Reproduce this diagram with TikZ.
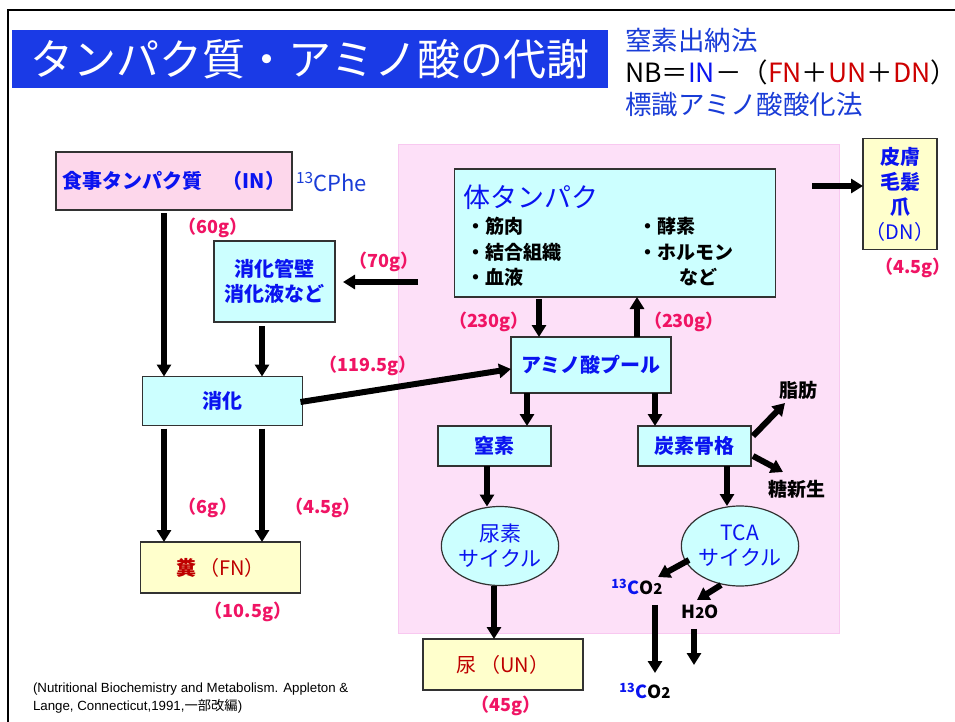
\documentclass[tikz,border=0pt]{standalone}
\usepackage{fontspec}
\newfontfamily\jp{Noto Sans CJK JP}
\newfontfamily\arial{Liberation Sans}
\usetikzlibrary{arrows.meta,shapes.geometric}
\definecolor{titleblue}{RGB}{26,58,230}
\definecolor{hdrblue}{RGB}{25,60,215}
\definecolor{boxblue}{RGB}{10,20,240}
\definecolor{amtpink}{RGB}{240,20,100}
\definecolor{darkred}{RGB}{190,0,0}
\definecolor{nbred}{RGB}{205,0,0}
\definecolor{cyanfill}{RGB}{204,255,255}
\definecolor{yellowfill}{RGB}{255,255,204}
\definecolor{inpink}{RGB}{253,215,235}
\definecolor{pinkbg}{RGB}{253,224,248}
\definecolor{pinkedge}{RGB}{248,200,240}
\definecolor{boxline}{RGB}{50,50,50}
\begin{document}
\begin{tikzpicture}[x=1pt,y=-1pt,
  every node/.style={inner sep=0pt,outer sep=0pt},
  cbox/.style={draw=boxline,line width=1.2pt,fill=cyanfill,text=boxblue,font=\jp\bfseries\fontsize{20}{25}\selectfont,align=center},
  ybox/.style={draw=boxline,line width=1.2pt,fill=yellowfill,text=darkred,font=\jp\fontsize{20}{25}\selectfont,align=center},
  ellip/.style={ellipse,draw=boxline,line width=1.2pt,fill=cyanfill,text=boxblue,font=\jp\fontsize{21}{25}\selectfont,align=center},
  amt/.style={text=amtpink,font=\jp\bfseries\fontsize{18}{20}\selectfont},
  item/.style={anchor=west,text=black,font=\jp\bfseries\fontsize{19}{20}\selectfont},
  hdr/.style={anchor=west,font=\jp\fontsize{26.5}{28}\selectfont},
  blk/.style={text=black,font=\jp\bfseries\fontsize{19}{20}\selectfont},
  chem/.style={text=black,font=\jp\bfseries\fontsize{18}{20}\selectfont},
  cite/.style={anchor=west,text=black,font=\arial\fontsize{13.3}{15}\selectfont},
  arr/.style={line width=6pt,-{Triangle[length=12pt,width=14pt]}}
]
\useasboundingbox (0,0) rectangle (955,722);
\fill[white] (0,0) rectangle (955,722);
% frame
\draw[line width=2.5pt] (8,722) -- (8,10) -- (955,10);
% title
\node[fill=titleblue,minimum width=596,minimum height=58,text=white,font=\jp\fontsize{43}{46}\selectfont] (title) at (310,59) {タンパク質・アミノ酸の代謝};
\node[hdr,text=hdrblue] (h1) at (625,40) {窒素出納法};
\node[hdr,text=black] (h2) at (625,72) {NB＝{\color{boxblue}IN}－（{\color{nbred}FN}＋{\color{nbred}UN}＋{\color{nbred}DN}）};
\node[hdr,text=hdrblue] (h3) at (625,104) {標識アミノ酸酸化法};
% pink region
\fill[pinkbg,draw=pinkedge,line width=1pt] (398,145) rectangle (839,633);
% boxes
\node[draw=boxline,line width=1.2pt,fill=inpink,text=boxblue,font=\jp\bfseries\fontsize{20}{25}\selectfont,minimum width=236,minimum height=58] (shokuji) at (174,181) {食事タンパク質　（IN）};
\node[anchor=west,text=hdrblue,font=\jp\fontsize{22}{24}\selectfont] (cphe) at (296,182) {\textsuperscript{13}CPhe};
\node[cbox,minimum width=321,minimum height=128] (body) at (615,233) {};
\node[anchor=west,text=boxblue,font=\jp\fontsize{27}{30}\selectfont] (bodyt) at (463,197) {体タンパク};
\node[item] (i1) at (466,226) {・筋肉};
\node[item] (i2) at (466,252) {・結合組織};
\node[item] (i3) at (466,277) {・血液};
\node[item] (i4) at (638,226) {・酵素};
\node[item] (i5) at (638,252) {・ホルモン};
\node[item] (i6) at (679,277) {など};
\node[cbox,fill=yellowfill,minimum width=74,minimum height=111] (skin) at (900,194) {皮膚\\毛髪\\爪\\{\mdseries （DN）}};
\node[cbox,minimum width=121,minimum height=81] (wall) at (274.5,281.5) {消化管壁\\消化液など};
\node[cbox,minimum width=160,minimum height=49] (shoka) at (222.5,401) {消化};
\node[cbox,minimum width=160,minimum height=56] (pool) at (591,365) {アミノ酸プール};
\node[cbox,minimum width=113,minimum height=40] (chisso) at (494.5,446) {窒素};
\node[cbox,minimum width=113,minimum height=40] (tanso) at (694.5,446) {炭素骨格};
\node[blk] (shibo) at (798,390) {脂肪};
\node[blk] (toshin) at (797,489) {糖新生};
\node[ellip,minimum width=107,minimum height=79] (nyoso) at (500,546) {尿素\\サイクル};
\node[ellip,minimum width=108,minimum height=80] (tca) at (740,546) {TCA\\サイクル};
\node[chem] (co2a) at (637,587) {{\color{boxblue}\textsuperscript{13}C}O{\fontsize{15}{15}\selectfont 2}};
\node[chem] (h2o) at (700,612) {H{\fontsize{15}{15}\selectfont 2}O};
\node[chem] (co2b) at (645,691) {{\color{boxblue}\textsuperscript{13}C}O{\fontsize{15}{15}\selectfont 2}};
\node[ybox,minimum width=160,minimum height=51] (fun) at (220.5,567.5) {{\bfseries 糞}\,（FN）};
\node[ybox,minimum width=160,minimum height=51] (nyo) at (503,664.5) {尿\,（UN）};
% amounts
\node[amt] (a60) at (213,228) {（60g）};
\node[amt] (a70) at (384,262) {（70g）};
\node[amt] (a119) at (368,366) {（119.5g）};
\node[amt] (a230l) at (489,322) {（230g）};
\node[amt] (a230r) at (684,322) {（230g）};
\node[amt] (a45s) at (913,268) {（4.5g）};
\node[amt] (a6) at (208,508) {（6g）};
\node[amt] (a45f) at (323,508) {（4.5g）};
\node[amt] (a105) at (248,612) {（10.5g）};
\node[amt] (a45) at (506,706) {（45g）};
% citation
\node[cite] (c1) at (33,689) {(Nutritional Biochemistry and Metabolism. Appleton \&};
\node[cite] (c2) at (33,706) {Lange, Connecticut,1991,{\jp 一部改編})};
% coordinates
\coordinate (x164) at (164,0);
\coordinate (x262) at (262,0);
\coordinate (x539) at (539,0);
\coordinate (x637) at (637,0);
\coordinate (x527) at (527,0);
\coordinate (x655) at (655,0);
\coordinate (x487) at (487,0);
\coordinate (x727) at (727,0);
\coordinate (x494) at (494,0);
\coordinate (x694) at (694,0);
\coordinate (s70) at (418,282);
\coordinate (sskin) at (812,186);
\coordinate (tfat0) at (753,436);
\coordinate (tfat1) at (785,403);
\coordinate (tsug0) at (753,456);
\coordinate (tsug1) at (783,472);
\coordinate (tc0) at (689,560);
\coordinate (tc1) at (658,577);
\coordinate (th0) at (721,585);
\coordinate (th1) at (697,600);
\coordinate (co2end) at (655,673);
\coordinate (h2oend) at (694,665);
% arrows
\draw[arr,shorten <=3pt] (shokuji.south -| x164) -- (shoka.north -| x164);
\draw[arr,shorten <=4pt] (wall.south -| x262) -- (shoka.north -| x262);
\draw[arr] (s70) -- ([xshift=8pt]wall.east |- s70);
\draw[arr] (sskin) -- (skin.west |- sskin);
\draw[arr,shorten <=2pt] (body.south -| x539) -- (pool.north -| x539);
\draw[arr] (pool.north -| x637) -- (body.south -| x637);
\draw[arr] ([xshift=-2pt,yshift=-1pt]shoka.east) -- ([yshift=-4pt]pool.west);
\draw[arr] (pool.south -| x527) -- (chisso.north -| x527);
\draw[arr] (pool.south -| x655) -- (tanso.north -| x655);
\draw[arr] (tfat0) -- (tfat1);
\draw[arr] (tsug0) -- (tsug1);
\draw[arr] (chisso.south -| x487) -- (nyoso.north -| x487);
\draw[arr] (tanso.south -| x727) -- (tca.north -| x727);
\draw[arr] (nyoso.south -| x494) -- (nyo.north -| x494);
\draw[arr] (tc0) -- (tc1);
\draw[arr] (th0) -- (th1);
\draw[arr,shorten <=10pt] (co2a.south -| x655) -- (co2end);
\draw[arr,shorten <=10pt] (h2o.south -| x694) -- (h2oend);
\draw[arr,shorten <=3pt] (shoka.south -| x164) -- (fun.north -| x164);
\draw[arr,shorten <=3pt] (shoka.south -| x262) -- (fun.north -| x262);
\end{tikzpicture}
\end{document}
